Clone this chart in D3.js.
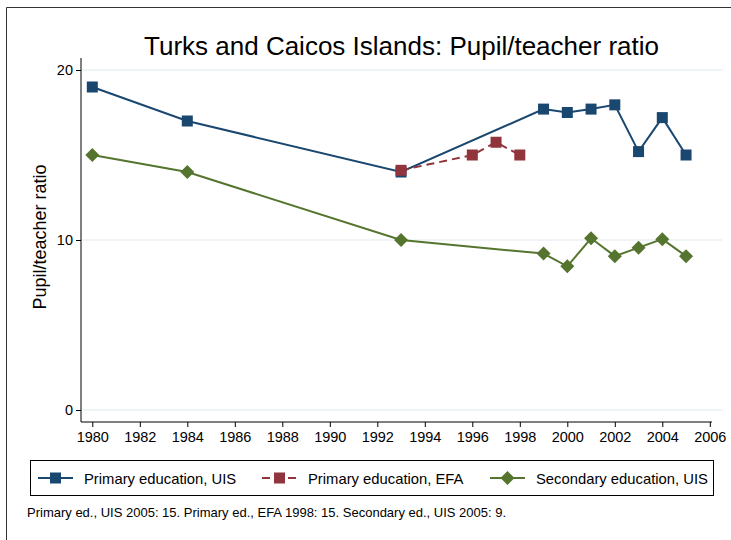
<!DOCTYPE html>
<html><head><meta charset="utf-8">
<script src="https://cdn.jsdelivr.net/npm/d3@7"></script>
<style>body{margin:0;background:#fff}svg{display:block;font-family:"Liberation Sans",Arial,sans-serif}</style>
</head><body><svg id="c" width="731" height="540"></svg>
<script>
const title = "Turks and Caicos Islands: Pupil/teacher ratio";
const yLabel = "Pupil/teacher ratio";
const xTicks = [1980,1982,1984,1986,1988,1990,1992,1994,1996,1998,2000,2002,2004,2006];
const yTicks = [0,10,20];
const primUISYears = [1980,1984,1993,1999,2000,2001,2002,2003,2004,2005];
const primUISVals  = [19,17,14,17.7,17.5,17.7,17.95,15.2,17.2,15];
const primEFAYears = [1993,1996,1997,1998];
const primEFAVals  = [14.1,15,15.75,15];
const secUISYears  = [1980,1984,1993,1999,2000,2001,2002,2003,2004,2005];
const secUISVals   = [15,14,10,9.2,8.45,10.1,9.05,9.55,10.05,9.05];
const legendLabels = ["Primary education, UIS","Primary education, EFA","Secondary education, UIS"];
const note = "Primary ed., UIS 2005: 15. Primary ed., EFA 1998: 15. Secondary ed., UIS 2005: 9.";

const colors = ["#1a476f","#90353b","#55752f"];
const svg = d3.select("#c");
svg.append("path").attr("d","M6.5,540 L6.5,7.5 L731,7.5").attr("fill","none").attr("stroke","#333").attr("stroke-width",1);

const x = d3.scaleLinear().domain([1980,2006]).range([92.3,709.8]);
const y = d3.scaleLinear().domain([0,20]).range([410,70]);

svg.append("g").selectAll("line").data(yTicks).join("line")
  .attr("x1",81).attr("x2",722).attr("y1",d=>y(d)).attr("y2",d=>y(d))
  .attr("stroke","#eaf2f3").attr("stroke-width",1.5);

const yAxis = d3.axisLeft(y).tickValues(yTicks).tickSize(5).tickPadding(3).tickFormat(d3.format("d"));
const gy = svg.append("g").attr("transform","translate(81,0)").call(yAxis);
gy.select(".domain").attr("d","M0,58V422");
const xAxis = d3.axisBottom(x).tickValues(xTicks).tickSize(5).tickPadding(5).tickFormat(d3.format("d"));
const gx = svg.append("g").attr("transform","translate(0,422)").call(xAxis);
gx.select(".domain").attr("d","M81,0H712");
[gx,gy].forEach(g=>{
  g.selectAll("text").attr("font-size",14.5).attr("fill","#000").attr("font-family","Liberation Sans, Arial, sans-serif");
  g.selectAll("line,path").attr("stroke","#000");
});

svg.append("text").attr("x",401.5).attr("y",55).attr("text-anchor","middle").attr("font-size",26).attr("fill","#000").text(title);
svg.append("text").attr("transform","translate(46,237) rotate(-90)").attr("text-anchor","middle").attr("font-size",18).attr("fill","#000").text(yLabel);

const series = [
  {years:primUISYears, vals:primUISVals, c:colors[0], dash:null, m:"sq"},
  {years:primEFAYears, vals:primEFAVals, c:colors[1], dash:"8,5", m:"sq"},
  {years:secUISYears, vals:secUISVals, c:colors[2], dash:null, m:"di"}
];
const line = d3.line().x(d=>x(d[0])).y(d=>y(d[1]));
function marker(g, m, c){
  if(m==="sq") g.append("rect").attr("x",-5.5).attr("y",-5.5).attr("width",11).attr("height",11).attr("fill",c);
  else g.append("path").attr("d","M0,-7L7,0L0,7L-7,0Z").attr("fill",c);
}
series.forEach(s=>{
  const pts = s.years.map((yr,i)=>[yr,s.vals[i]]);
  svg.append("path").datum(pts).attr("d",line).attr("fill","none").attr("stroke",s.c).attr("stroke-width",2).attr("stroke-dasharray",s.dash);
  pts.forEach(p=>{
    const g = svg.append("g").attr("transform",`translate(${x(p[0])},${y(p[1])})`);
    marker(g,s.m,s.c);
  });
});

svg.append("rect").attr("x",30.5).attr("y",460.5).attr("width",683).attr("height",35).attr("fill","#fff").attr("stroke","#000");
const legX = [38,262,490];
const textX = [84,308,536];
series.forEach((s,i)=>{
  svg.append("line").attr("x1",legX[i]).attr("x2",legX[i]+35).attr("y1",478).attr("y2",478)
    .attr("stroke",s.c).attr("stroke-width",2).attr("stroke-dasharray",s.dash);
  const g = svg.append("g").attr("transform",`translate(${legX[i]+17.5},478)`);
  marker(g,s.m,s.c);
  svg.append("text").attr("x",textX[i]).attr("y",483.5).attr("font-size",14.8).attr("fill","#000").text(legendLabels[i]);
});
svg.append("text").attr("x",27).attr("y",517).attr("font-size",13).attr("fill","#000").text(note);
</script></body></html>
